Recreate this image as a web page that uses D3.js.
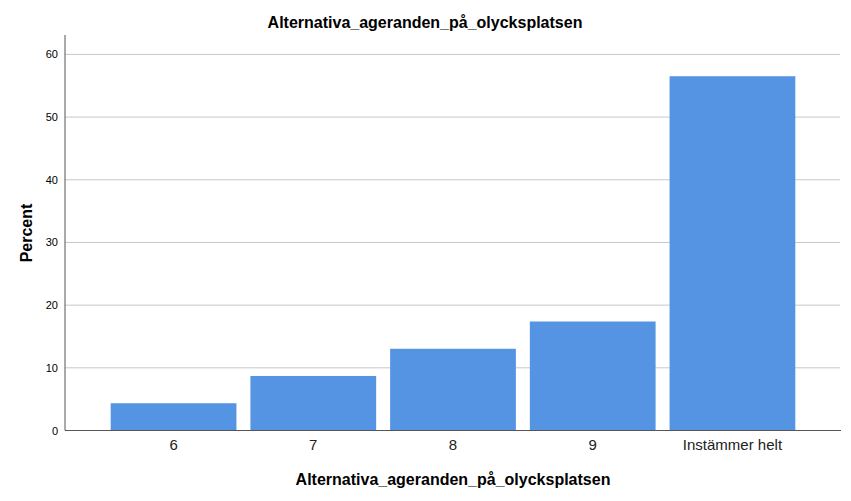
<!DOCTYPE html>
<html>
<head>
<meta charset="utf-8">
<script src="https://cdn.jsdelivr.net/npm/d3@7"></script>
<style>
  body { margin: 0; background: #fff; }
  svg { font-family: "Liberation Sans", Arial, sans-serif; }
</style>
</head>
<body>
<svg id="chart" width="851" height="501"></svg>
<script>
// answers to the question (n = 23)
const categories = ['6', '7', '8', '9', 'Instämmer helt'];
const percents = [4.35, 8.70, 13.04, 17.39, 56.52];
const yTicks = [0, 10, 20, 30, 40, 50, 60];
const chartTitle = 'Alternativa_ageranden_på_olycksplatsen';

const svg = d3.select('#chart');
const plotLeft = 65, plotRight = 841, plotTop = 35, plotBottom = 430.5;

const x = d3.scaleBand()
  .domain(categories)
  .range([plotLeft, plotRight])
  .paddingInner(0.1)
  .paddingOuter(0.327);

const y = d3.scaleLinear()
  .domain([0, 63.1])
  .range([plotBottom, plotTop]);

// grid
svg.append('g')
  .selectAll('line')
  .data(yTicks.filter(d => d > 0))
  .join('line')
  .attr('x1', plotLeft).attr('x2', 840)
  .attr('y1', d => y(d)).attr('y2', d => y(d))
  .attr('stroke', '#c8c8c8')
  .attr('stroke-width', 1);

// bars
svg.append('g')
  .selectAll('rect')
  .data(categories)
  .join('rect')
  .attr('x', d => x(d))
  .attr('width', x.bandwidth())
  .attr('y', (d, i) => y(percents[i]))
  .attr('height', (d, i) => plotBottom - y(percents[i]))
  .attr('fill', '#5594e3');

// y axis
const yAxis = svg.append('g')
  .attr('transform', `translate(${plotLeft},0)`)
  .call(d3.axisLeft(y).tickValues(yTicks).tickSize(0).tickPadding(7));
yAxis.select('.domain').remove();
yAxis.selectAll('text').attr('font-size', 11).attr('fill', '#000').attr('font-family', 'Liberation Sans, Arial, sans-serif');
svg.append('line')
  .attr('x1', plotLeft).attr('x2', plotLeft)
  .attr('y1', plotTop).attr('y2', plotBottom)
  .attr('stroke', '#555');

// x axis
const xAxis = svg.append('g')
  .attr('transform', `translate(0,${plotBottom})`)
  .call(d3.axisBottom(x).tickSize(0).tickPadding(9));
xAxis.select('.domain').remove();
xAxis.selectAll('text').attr('font-size', 15).attr('fill', '#222').attr('font-family', 'Liberation Sans, Arial, sans-serif');
svg.append('line')
  .attr('x1', plotLeft).attr('x2', plotRight)
  .attr('y1', plotBottom).attr('y2', plotBottom)
  .attr('stroke', '#555');

// titles
svg.append('text')
  .attr('x', 425).attr('y', 28)
  .attr('text-anchor', 'middle')
  .attr('font-size', 16).attr('font-weight', 'bold')
  .text(chartTitle);

svg.append('text')
  .attr('x', 453).attr('y', 485)
  .attr('text-anchor', 'middle')
  .attr('font-size', 16).attr('font-weight', 'bold')
  .text(chartTitle);

svg.append('text')
  .attr('transform', 'translate(32,233) rotate(-90)')
  .attr('text-anchor', 'middle')
  .attr('font-size', 16).attr('font-weight', 'bold')
  .text('Percent');
</script>
</body>
</html>
